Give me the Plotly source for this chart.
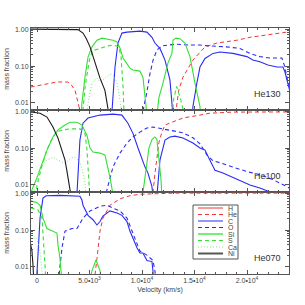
import plotly.graph_objects as go
from plotly.subplots import make_subplots

# ---------------- data (velocity km/s, mass fraction) ----------------
models = ["He130", "He100", "He070"]
elements = ["H", "He", "C", "O", "Si", "S", "Ca", "Ni"]

# He130
he130_He_v = [-600, 1900, 2950, 3300, 3620, 4000, 4150, 13150, 13500, 13900, 14850, 16000, 17140, 19040, 20280, 21900, 22850, 23800, 24100]
he130_He_y = [0.027, 0.037, 0.037, 0.03, 0.022, 0.008, 0.004, 0.004, 0.022, 0.05, 0.145, 0.33, 0.42, 0.5, 0.6, 0.69, 0.78, 0.83, 0.9]
he130_C_v = [7100, 7140, 7430, 7710, 8090, 8570, 9800, 10470, 10950, 11230, 11710, 12190, 12660, 12850, 12950, 14800, 14850, 15230, 15520, 16000, 16760, 17420, 18660, 19990, 20560, 21230, 21990, 22850, 23420, 23610, 23900, 24100]
he130_C_y = [0.004, 0.006, 0.094, 0.42, 0.78, 0.83, 0.88, 0.83, 0.6, 0.42, 0.3, 0.145, 0.042, 0.01, 0.004, 0.004, 0.008, 0.035, 0.094, 0.16, 0.22, 0.24, 0.22, 0.18, 0.145, 0.13, 0.107, 0.094, 0.094, 0.07, 0.03, 0.02]
he130_O_v = [10000, 10090, 10470, 10750, 11040, 11420, 11900, 12660, 13140, 14570, 15520, 16470, 18090, 19330, 20280, 21230, 22180, 23320, 23610, 23900, 24100]
he130_O_y = [0.004, 0.006, 0.02, 0.06, 0.14, 0.27, 0.35, 0.38, 0.39, 0.37, 0.37, 0.35, 0.33, 0.3, 0.22, 0.18, 0.165, 0.165, 0.094, 0.035, 0.025]
he130_Si_v = [4200, 4280, 4570, 4860, 5240, 5710, 6190, 6660, 7240, 7620, 7900, 8190, 8570, 8850, 9140, 9800, 10090, 10380, 10500, 11400, 11610, 12000, 12470, 12850, 12950, 13230, 13610, 14090, 14570, 15040, 15520, 15600]
he130_Si_y = [0.004, 0.01, 0.05, 0.175, 0.33, 0.5, 0.57, 0.54, 0.5, 0.45, 0.31, 0.165, 0.12, 0.088, 0.078, 0.073, 0.05, 0.012, 0.004, 0.004, 0.014, 0.035, 0.12, 0.22, 0.5, 0.57, 0.55, 0.42, 0.18, 0.035, 0.008, 0.004]
he130_S_v = [4300, 4600, 5000, 5300, 6000, 6700, 7300, 7800, 8000, 8100, 8200, 8300, 12900, 13000, 13300, 13700, 14000, 14100]
he130_S_y = [0.004, 0.03, 0.15, 0.26, 0.3, 0.35, 0.37, 0.33, 0.18, 0.08, 0.027, 0.004, 0.004, 0.012, 0.028, 0.012, 0.005, 0.004]
he130_Ca_v = [4700, 4860, 5240, 5710, 6000, 6470, 6950, 7240, 7620, 7900, 8100]
he130_Ca_y = [0.004, 0.01, 0.035, 0.047, 0.037, 0.047, 0.06, 0.058, 0.035, 0.012, 0.004]
he130_Ni_v = [-600, 3500, 3900, 4380, 4700, 5050, 5520, 6000, 6470, 6660, 6900]
he130_Ni_y = [1.0, 1.0, 0.97, 0.78, 0.55, 0.33, 0.12, 0.047, 0.022, 0.01, 0.004]

# He100
he100_He_v = [10900, 11040, 11230, 11420, 11610, 11900, 12190, 12850, 13900, 15520, 16470, 18660, 24100]
he100_He_y = [0.004, 0.006, 0.02, 0.05, 0.14, 0.27, 0.42, 0.5, 0.65, 0.78, 0.88, 0.94, 0.95]
he100_C_v = [3700, 3810, 4090, 4380, 4860, 6000, 7240, 8090, 8660, 9140, 9620, 10000, 10280, 10570, 10950, 11040, 11420, 11710, 12190, 12660, 13140, 13900, 14850, 15520, 16000, 16470, 16950, 17710, 19040, 20280, 21230, 22180, 22400]
he100_C_y = [0.004, 0.006, 0.165, 0.47, 0.65, 0.78, 0.83, 0.78, 0.47, 0.25, 0.1, 0.047, 0.031, 0.021, 0.009, 0.005, 0.005, 0.047, 0.165, 0.2, 0.21, 0.186, 0.137, 0.1, 0.088, 0.047, 0.025, 0.021, 0.014, 0.01, 0.0083, 0.0065, 0.004]
he100_O_v = [6500, 6660, 7240, 7900, 8570, 9140, 9800, 10470, 11040, 12380, 13900, 14850, 15520, 16180, 16760, 17420, 18660, 19990, 21230, 22470, 23800, 24100]
he100_O_y = [0.004, 0.0074, 0.031, 0.073, 0.137, 0.2, 0.27, 0.35, 0.37, 0.32, 0.26, 0.19, 0.13, 0.065, 0.045, 0.04, 0.03, 0.023, 0.019, 0.014, 0.009, 0.008]
he100_Si_v = [-600, -480, 0, 480, 950, 1520, 2000, 2670, 3140, 3810, 4280, 4760, 5050, 5330, 6000, 6470, 6660, 6950, 7140, 7300, 10000, 10090, 10380, 10660, 10950, 11230, 11420, 11610, 11800, 11900]
he100_Si_y = [0.005, 0.0074, 0.016, 0.039, 0.088, 0.2, 0.31, 0.42, 0.5, 0.5, 0.42, 0.22, 0.1, 0.078, 0.073, 0.065, 0.039, 0.016, 0.008, 0.004, 0.004, 0.006, 0.03, 0.1, 0.17, 0.2, 0.17, 0.06, 0.015, 0.005]
he100_S_v = [-100, 0, 500, 950, 1520, 1900, 2500, 3140, 4090, 4570, 4760, 4860, 4950, 5050]
he100_S_y = [0.005, 0.01, 0.035, 0.09, 0.2, 0.28, 0.31, 0.33, 0.33, 0.25, 0.09, 0.03, 0.008, 0.004]
he100_Ca_v = [-300, -190, 290, 950, 1520, 2000, 2670, 3330, 3620, 4090, 4380, 4570, 4700]
he100_Ca_y = [0.004, 0.009, 0.031, 0.047, 0.057, 0.047, 0.039, 0.054, 0.057, 0.042, 0.021, 0.011, 0.004]
he100_Ni_v = [-600, -480, 290, 950, 1520, 2000, 2380, 2670, 2860, 2950, 3140, 3300]
he100_Ni_y = [0.95, 0.94, 0.88, 0.69, 0.37, 0.186, 0.088, 0.047, 0.023, 0.014, 0.0065, 0.004]

# He070
he070_He_v = [5400, 5520, 5710, 6000, 6280, 6950, 7900, 8850, 9800, 11230, 13000, 24100]
he070_He_y = [0.004, 0.006, 0.017, 0.094, 0.21, 0.47, 0.7, 0.85, 0.93, 0.98, 1.0, 1.0]
he070_C_v = [-50, 95, 290, 570, 860, 2190, 3140, 4090, 4280, 4380, 4860, 5330, 5710, 6000, 6280, 6950, 7620, 8090, 8570, 8850, 9140, 9520, 9800, 10090, 10470, 10950, 11040, 11100]
he070_C_y = [0.004, 0.033, 0.21, 0.73, 0.85, 0.87, 0.85, 0.82, 0.65, 0.47, 0.25, 0.19, 0.137, 0.17, 0.24, 0.33, 0.29, 0.25, 0.17, 0.094, 0.06, 0.033, 0.024, 0.024, 0.015, 0.014, 0.008, 0.004]
he070_O_v = [2000, 2100, 2380, 2670, 3330, 3810, 4380, 5050, 6000, 6660, 7240, 7900, 8570, 9040, 9520, 9800, 10470, 10950, 11040, 11230, 11300]
he070_O_y = [0.004, 0.006, 0.033, 0.094, 0.11, 0.11, 0.21, 0.33, 0.44, 0.47, 0.39, 0.33, 0.21, 0.094, 0.04, 0.027, 0.021, 0.016, 0.015, 0.008, 0.004]
he070_Si_v = [-600, -480, 0, 290, 570, 950, 1520, 1900, 2000, 2190, 2280, 2400, 5000, 5240, 5620, 6000, 6150]
he070_Si_y = [0.62, 0.61, 0.55, 0.47, 0.21, 0.11, 0.094, 0.083, 0.039, 0.017, 0.0078, 0.004, 0.004, 0.008, 0.0155, 0.008, 0.004]
he070_S_v = [-600, -480, 95, 480, 570, 760, 850]
he070_S_y = [0.4, 0.39, 0.35, 0.21, 0.06, 0.011, 0.004]
he070_Ca_v = [-600, -480, 0, 290, 480, 570]
he070_Ca_y = [0.06, 0.06, 0.06, 0.027, 0.011, 0.004]
he070_Ni_v = [-600, -480, -380, -300]
he070_Ni_y = [0.04, 0.027, 0.011, 0.004]

x_tickvals = [0, 5000, 10000, 15000, 20000]
x_ticktext = ["0", "5.0\u202210<sup>3</sup>", "1.0\u202210<sup>4</sup>", "1.5\u202210<sup>4</sup>", "2.0\u202210<sup>4</sup>"]
y_tickvals = [0.01, 0.1, 1.0]
y_ticktext = ["0.01", "0.10", "1.00"]
y_minor = [0.02, 0.03, 0.04, 0.05, 0.06, 0.07, 0.08, 0.09, 0.2, 0.3, 0.4, 0.5, 0.6, 0.7, 0.8, 0.9]

panel_data = {
    "He130": [("He", he130_He_v, he130_He_y), ("C", he130_C_v, he130_C_y), ("O", he130_O_v, he130_O_y),
              ("Si", he130_Si_v, he130_Si_y), ("S", he130_S_v, he130_S_y), ("Ca", he130_Ca_v, he130_Ca_y),
              ("Ni", he130_Ni_v, he130_Ni_y)],
    "He100": [("He", he100_He_v, he100_He_y), ("C", he100_C_v, he100_C_y), ("O", he100_O_v, he100_O_y),
              ("Si", he100_Si_v, he100_Si_y), ("S", he100_S_v, he100_S_y), ("Ca", he100_Ca_v, he100_Ca_y),
              ("Ni", he100_Ni_v, he100_Ni_y)],
    "He070": [("He", he070_He_v, he070_He_y), ("C", he070_C_v, he070_C_y), ("O", he070_O_v, he070_O_y),
              ("Si", he070_Si_v, he070_Si_y), ("S", he070_S_v, he070_S_y), ("Ca", he070_Ca_v, he070_Ca_y),
              ("Ni", he070_Ni_v, he070_Ni_y)],
}

# ---------------- styles ----------------
RED, BLUE, GREEN, BLACK = "#f23434", "#2b2bf5", "#33e033", "#1a1a1a"
style = {
    "H": dict(color=RED, dash="solid", width=1),
    "He": dict(color=RED, dash="4px,3px", width=1),
    "C": dict(color=BLUE, dash="solid", width=1.1),
    "O": dict(color=BLUE, dash="4px,3px", width=1.1),
    "Si": dict(color=GREEN, dash="solid", width=1.1),
    "S": dict(color=GREEN, dash="4px,3px", width=1.1),
    "Ca": dict(color="#7be87b", dash="1px,2px", width=1),
    "Ni": dict(color=BLACK, dash="solid", width=1.1),
}
legend_style = {
    "H": dict(color=RED, dash="solid", width=1),
    "He": dict(color=RED, dash="4px,3px", width=1),
    "C": dict(color=BLUE, dash="solid", width=1),
    "O": dict(color=BLUE, dash="4px,3px", width=1),
    "Si": dict(color="#77ee77", dash="solid", width=2),
    "S": dict(color=GREEN, dash="4px,3px", width=1),
    "Ca": dict(color="#8bee8b", dash="1px,2px", width=1),
    "Ni": dict(color="#555555", dash="solid", width=2),
}

FONT = "Liberation Sans, Arial, sans-serif"
AX = "#555555"
TXT = "#444444"

fig = make_subplots(rows=3, cols=1, shared_xaxes=True, vertical_spacing=0)

for r, m in enumerate(models, start=1):
    for el, v, y in panel_data[m]:
        fig.add_trace(go.Scatter(x=v, y=y, mode="lines", line=style[el], showlegend=False,
                                 hoverinfo="skip"), row=r, col=1)
    fig.update_yaxes(type="log", range=[-2.19, 0.03], tickmode="array", tickvals=y_tickvals,
                     ticktext=y_ticktext, ticks="inside", ticklen=4, tickcolor=AX,
                     minor=dict(tickmode="array", tickvals=y_minor, ticks="inside", ticklen=2, tickcolor=AX),
                     showline=True, linecolor=AX, linewidth=1, mirror="ticks", showgrid=False,
                     zeroline=False, tickfont=dict(family=FONT, size=7, color=TXT),
                     title=dict(text="mass fraction", font=dict(family=FONT, size=7, color=TXT), standoff=4),
                     automargin=False, row=r, col=1)
    fig.update_xaxes(range=[-571, 24000], tickmode="array", tickvals=x_tickvals, ticktext=x_ticktext,
                     ticks="inside", ticklen=4, tickcolor=AX,
                     minor=dict(dtick=1000, ticks="inside", ticklen=2, tickcolor=AX),
                     showline=True, linecolor=AX, linewidth=1, mirror="ticks", showgrid=False,
                     zeroline=False, tickfont=dict(family=FONT, size=7, color=TXT),
                     showticklabels=(r == 3), automargin=False, row=r, col=1)
    # model label
    fig.add_annotation(text=m, xref="x domain" if r == 1 else f"x{r} domain",
                       yref="y domain" if r == 1 else f"y{r} domain",
                       x=0.975, y=0.19, xanchor="right", yanchor="middle", showarrow=False,
                       font=dict(family=FONT, size=9, color="#333333"))

fig.update_xaxes(title=dict(text="Velocity (km/s)", font=dict(family=FONT, size=7, color=TXT), standoff=3),
                 row=3, col=1)

# ---------------- legend box (bottom panel) ----------------
W, H0, L, T = 258.0, 246.0, 31.0, 28.0
def px(xp):
    return (xp - L) / W
def py(yp):
    return 1 - (yp - T) / H0

fig.add_shape(type="rect", xref="paper", yref="paper", x0=px(193), x1=px(238), y0=py(259), y1=py(205),
              line=dict(color="#555555", width=1), fillcolor="white", layer="above")
for i, el in enumerate(elements):
    yy = py(208 + i * 6.5)
    fig.add_shape(type="line", xref="paper", yref="paper", x0=px(198), x1=px(223), y0=yy, y1=yy,
                  line=legend_style[el], layer="above")
    fig.add_annotation(text=el, xref="paper", yref="paper", x=px(226), y=yy,
                       showarrow=False, xanchor="left", yanchor="middle",
                       font=dict(family=FONT, size=7, color="#444444"))

fig.update_layout(width=305, height=305, margin=dict(l=31, r=16, t=28, b=31),
                  paper_bgcolor="white", plot_bgcolor="white", showlegend=False)

fig.write_html("out.html", config={"displayModeBar": False},
               post_script="document.body.style.margin='0';")
